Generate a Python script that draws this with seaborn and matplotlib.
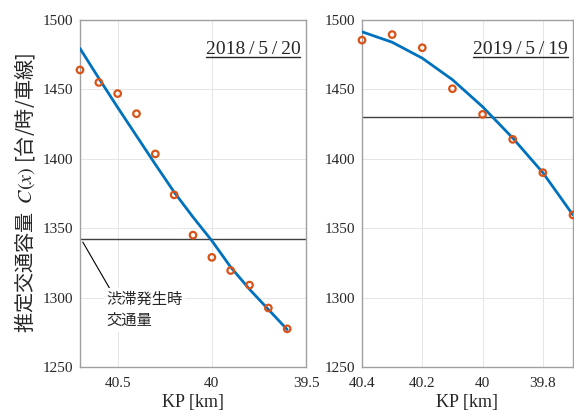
import matplotlib
matplotlib.use('Agg')
import matplotlib.pyplot as plt
import matplotlib.ticker as mticker
import seaborn as sns
import pandas as pd

# KP positions and capacity values
kp_2018 = [40.7, 40.6, 40.5, 40.4, 40.3, 40.2, 40.1, 40.0, 39.9, 39.8, 39.7, 39.6]
obs_2018 = [1464, 1455, 1447, 1432.5, 1403.5, 1374, 1345, 1329, 1319.5, 1309, 1292.5, 1277.5]
fit_2018 = [1479.5, 1458, 1437, 1416.5, 1396, 1376, 1358, 1341, 1322, 1306, 1291.5, 1277]
jam_2018 = 1342.5

kp_2019 = [40.4, 40.3, 40.2, 40.1, 40.0, 39.9, 39.8, 39.7]
obs_2019 = [1485.5, 1489.5, 1480, 1450.5, 1432, 1414, 1390, 1359.5]
fit_2019 = [1491.5, 1484, 1472.5, 1457, 1437.5, 1415, 1390, 1359.5]
jam_2019 = 1430

dates = ['2018\u2009/\u20095\u2009/\u200920', '2019\u2009/\u20095\u2009/\u200919']
xticks_l = [40.5, 40, 39.5]
xticks_r = [40.4, 40.2, 40, 39.8]
yticks = [1250, 1300, 1350, 1400, 1450, 1500]

sns.set_theme(style='whitegrid')
plt.rcParams['font.family'] = ['Liberation Serif', 'Noto Sans CJK JP']
plt.rcParams['mathtext.fontset'] = 'stix'

blue = '#0072BD'
orange = '#D95319'
jp = ['Noto Sans CJK JP', 'DejaVu Sans']

fig = plt.figure(figsize=(5.74, 4.16), dpi=100)
axL = fig.add_axes([80 / 574, 49 / 416, 226 / 574, 347 / 416])
axR = fig.add_axes([362 / 574, 49 / 416, 211 / 574, 347 / 416])

panels = [
    (axL, kp_2018, obs_2018, fit_2018, jam_2018, (40.7, 39.5), xticks_l, dates[0]),
    (axR, kp_2019, obs_2019, fit_2019, jam_2019, (40.4, 39.7), xticks_r, dates[1]),
]

for ax, kp, obs, fit, jam, xlim, xt, date in panels:
    df = pd.DataFrame({'kp': kp, 'obs': obs, 'fit': fit})
    ax.axhline(jam, color='#404040', lw=1.0, zorder=2)
    sns.lineplot(data=df, x='kp', y='fit', ax=ax, color=blue, lw=2.0, zorder=3)
    sns.scatterplot(data=df, x='kp', y='obs', ax=ax, marker='o', s=22,
                    facecolor='none', edgecolor=orange, linewidth=1.6, zorder=4,
                    clip_on=False)
    ax.set_xlim(*xlim)
    ax.set_ylim(1250, 1500)
    ax.set_xticks(xt)
    ax.set_yticks(yticks)
    ax.xaxis.set_major_formatter(mticker.FormatStrFormatter('%g'))
    ax.grid(True, color='#e6e6e6', lw=0.7)
    for s in ax.spines.values():
        s.set_color('#a0a0a0')
        s.set_linewidth(1.0)
    ax.tick_params(axis='both', direction='in', length=3, width=0.6, color='#404040',
                   labelsize=11, labelcolor='#262626')
    ax.tick_params(axis='x', pad=7)
    ax.tick_params(axis='y', pad=5)
    ax.set_xlabel('KP [km]', fontsize=13, color='#262626', labelpad=3)
    ax.set_ylabel('')
    ax.set_facecolor('white')
    t = ax.text(0.975, 0.915, date, transform=ax.transAxes, ha='right', va='center',
                fontsize=14, color='#262626')
    ax.date_text = t

axL.set_ylabel('推定交通容量  $C(x)$ [台/時/車線]', fontsize=14.5, family=jp,
               color='#262626', labelpad=4)

axL.annotate('渋滞発生時\n交通量', xy=(40.685, 1340), xytext=(40.56, 1305),
             ha='left', va='top', fontsize=11, family=jp, color='#262626',
             linespacing=1.35,
             bbox=dict(boxstyle='square,pad=0.15', fc='white', ec='none'),
             arrowprops=dict(arrowstyle='-', color='black', lw=0.8,
                             shrinkA=0, shrinkB=0, relpos=(0.06, 1.0)))

# underline the date labels
fig.canvas.draw()
for ax in (axL, axR):
    bb = ax.date_text.get_window_extent().transformed(ax.transAxes.inverted())
    ax.plot([bb.x0, bb.x1], [bb.y0 + 0.004, bb.y0 + 0.004], transform=ax.transAxes,
            color='#262626', lw=1.0, clip_on=False)

fig.savefig('out.png', dpi=100)
